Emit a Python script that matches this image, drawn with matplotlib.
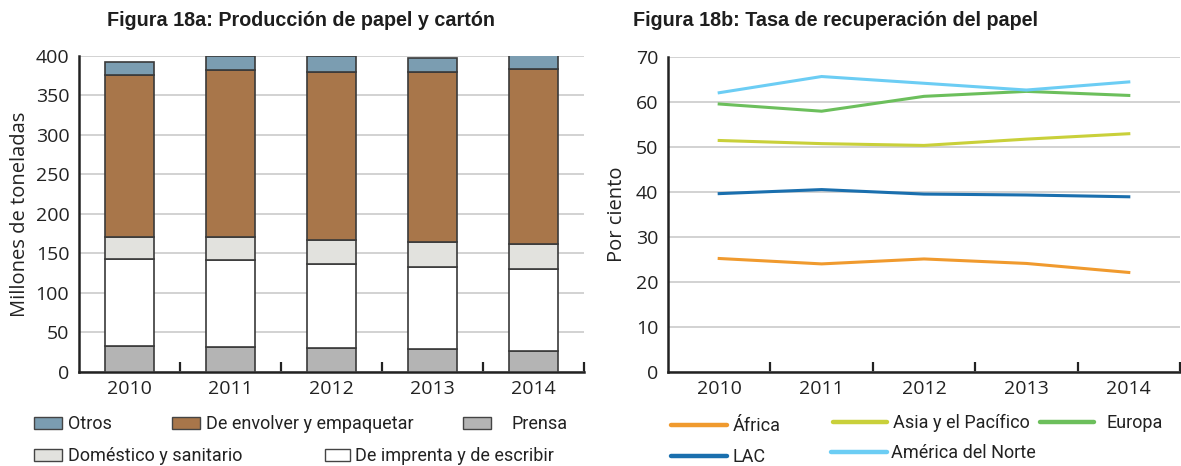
import matplotlib
matplotlib.use("Agg")
import matplotlib.pyplot as plt
from matplotlib.patches import Patch
from matplotlib.lines import Line2D
import numpy as np

years = ["2010", "2011", "2012", "2013", "2014"]

# Figura 18a: millones de toneladas, por tipo (de abajo hacia arriba)
prensa = [33, 31.5, 30, 28.5, 26.5]
imprenta = [110, 110.5, 106.5, 104, 103.5]
domestico = [28, 29, 30.5, 31.5, 32]
envolver = [204, 211, 213, 215, 221]
otros = [17, 17, 19, 18, 18]

# Figura 18b: tasa de recuperación (%)
africa = [25.2, 24.0, 25.1, 24.1, 22.1]
asia = [51.4, 50.7, 50.3, 51.7, 52.9]
europa = [59.5, 57.9, 61.2, 62.3, 61.4]
lac = [39.6, 40.5, 39.5, 39.3, 38.9]
america_norte = [62.0, 65.6, 64.1, 62.6, 64.4]

W, H = 1181, 466
plt.rcParams["font.family"] = ["Open Sans", "DejaVu Sans"]
fig = plt.figure(figsize=(W / 100, H / 100), dpi=100)

AXIS = "#222222"
GRID = "#c6c6c6"
EDGE = "#3a3a3a"


def style_axes(ax, ymax, step):
    ax.set_xlim(-0.5, len(years) - 0.5)
    ax.set_ylim(0, ymax)
    ax.set_yticks(np.arange(0, ymax + 1, step))
    ax.set_xticks(range(len(years)))
    ax.set_xticklabels(years)
    ax.set_xticks(np.arange(0.5, len(years)), minor=True)
    ax.tick_params(axis="x", which="major", length=0, pad=6, labelsize=14,
                   labelcolor="#222222")
    ax.tick_params(axis="x", which="minor", direction="in", length=7,
                   width=1.6, color=AXIS)
    ax.tick_params(axis="y", length=0, pad=7, labelsize=14,
                   labelcolor="#222222")
    ax.grid(True, axis="y", color=GRID, linewidth=1.1)
    ax.set_axisbelow(True)
    for s in ("top", "right"):
        ax.spines[s].set_visible(False)
    for s in ("left", "bottom"):
        ax.spines[s].set_color(AXIS)
        ax.spines[s].set_linewidth(1.8)


# ---- Figura 18a ----
ax1 = fig.add_axes([79 / W, 94 / H, 505 / W, 316.3 / H])
x = np.arange(len(years))
stack = [
    (prensa, "#b4b4b4"),
    (imprenta, "#ffffff"),
    (domestico, "#e2e2de"),
    (envolver, "#a8764a"),
    (otros, "#7b9db1"),
]
bottom = np.zeros(len(years))
for vals, col in stack:
    ax1.bar(x, vals, width=0.485, bottom=bottom, color=col,
            edgecolor=EDGE, linewidth=1.2, zorder=3)
    bottom += np.array(vals)
style_axes(ax1, 400, 50)
ax1.set_ylabel("Millones de toneladas", fontsize=14.5, color="#222222",
               labelpad=4)

# ---- Figura 18b ----
ax2 = fig.add_axes([668 / W, 94 / H, 512 / W, 315.3 / H])
series = [
    (africa, "#f09a2e"),
    (asia, "#c9d03a"),
    (europa, "#6cbf5c"),
    (lac, "#1a6fae"),
    (america_norte, "#6ccdf4"),
]
for vals, col in series:
    ax2.plot(x, vals, color=col, linewidth=2.2, zorder=3)
style_axes(ax2, 70, 10)
ax2.set_ylabel("Por ciento", fontsize=14.5, color="#222222", labelpad=6)

# ---- titles ----
fig.text(107 / W, 1 - 20 / H, "Figura 18a: Producción de papel y cartón",
         family="Liberation Sans", weight="bold", fontsize=14.2,
         color="#1e1e1e", va="center", ha="left")
fig.text(633 / W, 1 - 20 / H, "Figura 18b: Tasa de recuperación del papel",
         family="Liberation Sans", weight="bold", fontsize=14.2,
         color="#1e1e1e", va="center", ha="left")


# ---- legends (placed item by item like the original) ----
def legend_item(handle, label, px, py, textpad=0.33, hlen=1.55, hh=0.67):
    fig.legend([handle], [label], loc="center left",
               bbox_to_anchor=(px / W, 1 - py / H), frameon=False,
               prop={"family": ["Roboto", "DejaVu Sans"], "size": 13},
               handlelength=hlen, handleheight=hh,
               handletextpad=textpad, borderpad=0, borderaxespad=0,
               labelcolor="#222222")


def box(col):
    return Patch(facecolor=col, edgecolor="#444444", linewidth=1.0)


legend_item(box("#7b9db1"), "Otros", 34, 424)
legend_item(box("#a8764a"), "De envolver y empaquetar", 172, 424)
legend_item(box("#b4b4b4"), "Prensa", 463, 424, textpad=1.15)
legend_item(box("#e2e2de"), "Doméstico y sanitario", 34, 456)
legend_item(box("#ffffff"), "De imprenta y de escribir", 325, 456,
            hlen=1.4, textpad=0.25)


def ln(col):
    return Line2D([], [], color=col, linewidth=3.2, solid_capstyle="round")


legend_item(ln("#f09a2e"), "África", 671, 426, hlen=3.1, textpad=0.3)
legend_item(ln("#c9d03a"), "Asia y el Pacífico", 833, 423, hlen=3.0,
            textpad=0.3)
legend_item(ln("#6cbf5c"), "Europa", 1040, 423, hlen=3.0, textpad=0.7)
legend_item(ln("#1a6fae"), "LAC", 671, 457, hlen=3.1, textpad=0.3)
legend_item(ln("#6ccdf4"), "América del Norte", 831, 453, hlen=3.1,
            textpad=0.25)

fig.savefig("out.png", dpi=100)
